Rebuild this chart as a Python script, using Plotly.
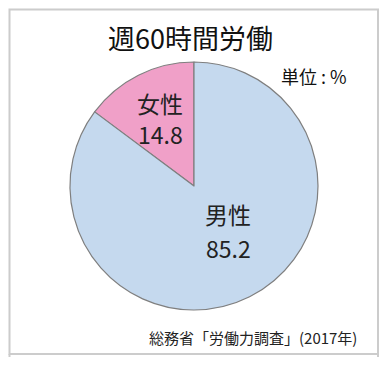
import plotly.graph_objects as go

labels = ["女性", "男性"]
values = [14.8, 85.2]
colors = ["#f0a0c8", "#c5d9ee"]
title_text = "週60時間労働"
unit_text = "単位 : %"
source_text = "総務省「労働力調査」(2017年)"

OFF = 8  # default page body margin
W, H = 387 - 2 * OFF, 365 - 2 * OFF
FONT = "Noto Sans CJK JP"

def px(x):
    return (x - OFF) / W

def py(y):
    return 1 - (y - OFF) / H

# first slice (女性) sits just left of 12 o'clock
start_angle = -360 * values[0] / sum(values)

fig = go.Figure(go.Pie(
    labels=labels,
    values=values,
    sort=False,
    direction="clockwise",
    rotation=start_angle,
    marker=dict(colors=colors, line=dict(color="#7f7f7f", width=1.2)),
    textinfo="none",
    hoverinfo="label+value",
    showlegend=False,
    domain=dict(x=[px(70), px(318)], y=[py(310), py(62)]),
))

ann = []
ann.append(dict(x=px(190), y=py(37), text=title_text, font=dict(size=27, color="#111111", family=FONT)))
ann.append(dict(x=px(314), y=py(76), text=unit_text, font=dict(size=18, color="#111111", family=FONT)))
ann.append(dict(x=px(253), y=py(337), text=source_text, font=dict(size=15, color="#222222", family=FONT)))
# slice labels
ann.append(dict(x=px(160), y=py(103), text=labels[0], font=dict(size=23, color="#222222", family=FONT)))
ann.append(dict(x=px(160), y=py(134), text=f"{values[0]:.1f}", font=dict(size=23, color="#222222", family=FONT)))
ann.append(dict(x=px(228), y=py(214), text=labels[1], font=dict(size=23, color="#222222", family=FONT)))
ann.append(dict(x=px(228), y=py(248), text=f"{values[1]:.1f}", font=dict(size=23, color="#222222", family=FONT)))
for a in ann:
    a.update(xref="paper", yref="paper", showarrow=False, xanchor="center", yanchor="middle")

LC = dict(color="#cccccc", width=2)
shapes = [
    dict(type="rect", xref="paper", yref="paper", x0=px(9.5), x1=px(378), y0=py(354), y1=py(9.5),
         line=LC, fillcolor="rgba(0,0,0,0)", layer="above"),
    dict(type="line", xref="paper", yref="paper", x0=px(9.5), x1=px(9.5), y0=0, y1=py(354), line=LC),
    dict(type="line", xref="paper", yref="paper", x0=px(378), x1=px(378), y0=0, y1=py(354), line=LC),
]

fig.update_layout(
    width=W, height=H,
    margin=dict(l=0, r=0, t=0, b=0),
    paper_bgcolor="white",
    plot_bgcolor="white",
    annotations=ann,
    shapes=shapes,
    font=dict(family=FONT),
)

fig.write_html("out.html")
